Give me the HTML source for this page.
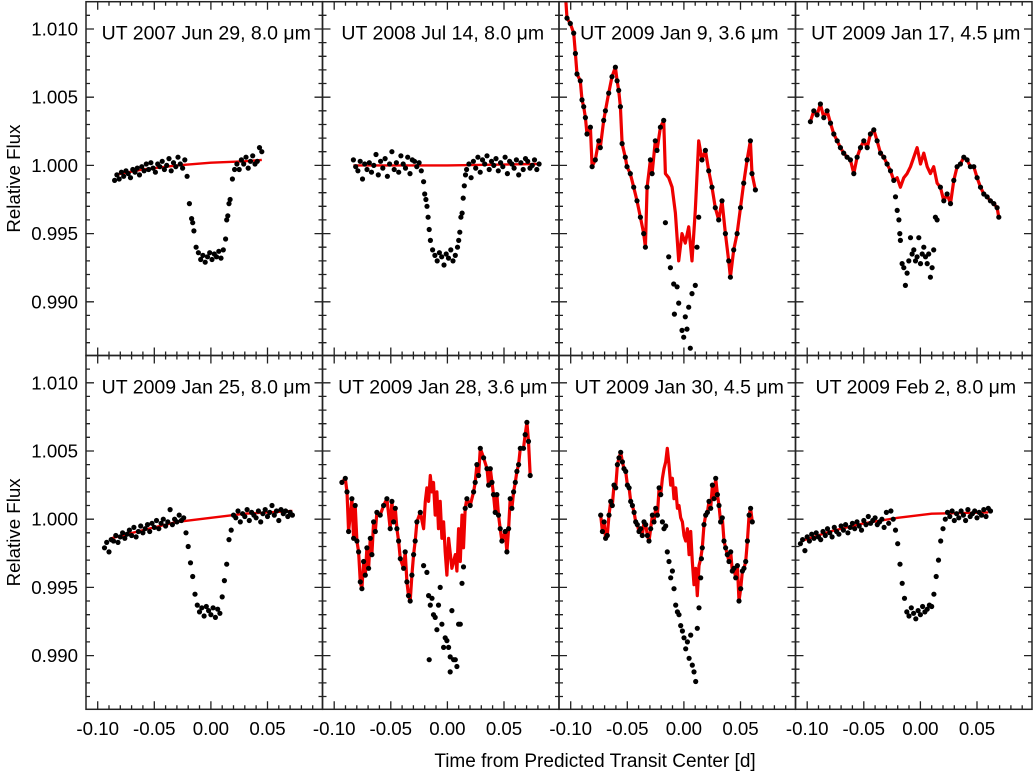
<!DOCTYPE html>
<html><head><meta charset="utf-8"><style>
html,body{margin:0;padding:0;background:#fff;}
svg{display:block;font-family:"Liberation Sans",Arial,sans-serif;}
</style></head><body>
<svg id="chart" width="1033" height="772" viewBox="0 0 1033 772" xmlns="http://www.w3.org/2000/svg">
<defs>
<clipPath id="c0"><rect x="86" y="1.7" width="236.5" height="353.8"/></clipPath>
<clipPath id="c1"><rect x="322.5" y="1.7" width="236.5" height="353.8"/></clipPath>
<clipPath id="c2"><rect x="559" y="1.7" width="236.5" height="353.8"/></clipPath>
<clipPath id="c3"><rect x="795.5" y="1.7" width="236.5" height="353.8"/></clipPath>
<clipPath id="c4"><rect x="86" y="355.5" width="236.5" height="353.8"/></clipPath>
<clipPath id="c5"><rect x="322.5" y="355.5" width="236.5" height="353.8"/></clipPath>
<clipPath id="c6"><rect x="559" y="355.5" width="236.5" height="353.8"/></clipPath>
<clipPath id="c7"><rect x="795.5" y="355.5" width="236.5" height="353.8"/></clipPath>
</defs>
</svg>
<script>
// ---------- data ----------
const titles = ["UT 2007 Jun 29, 8.0 \u03bcm","UT 2008 Jul 14, 8.0 \u03bcm","UT 2009 Jan 9, 3.6 \u03bcm","UT 2009 Jan 17, 4.5 \u03bcm","UT 2009 Jan 25, 8.0 \u03bcm","UT 2009 Jan 28, 3.6 \u03bcm","UT 2009 Jan 30, 4.5 \u03bcm","UT 2009 Feb 2, 8.0 \u03bcm"];
const yTickVals = [1.010,1.005,1.000,0.995,0.990];
const yTickLabels = ["1.010","1.005","1.000","0.995","0.990"];
const xTickVals = [-0.10,-0.05,0.00,0.05];
const xTickLabels = ["-0.10","-0.05","0.00","0.05"];

// Panel 1
const p1T = [-0.085,-0.083,-0.081,-0.079,-0.077,-0.075,-0.073,-0.071,-0.069,-0.067,-0.065,-0.063,-0.061,-0.059,-0.057,-0.055,-0.053,-0.051,-0.049,-0.047,-0.045,-0.043,-0.041,-0.039,-0.037,-0.035,-0.033,-0.031,-0.029,-0.027,-0.025,-0.023,-0.021,-0.019,-0.017,-0.016,-0.015,-0.013,-0.011,-0.009,-0.007,-0.005,-0.003,-0.001,0.001,0.003,0.005,0.007,0.009,0.011,0.013,0.014,0.015,0.016,0.017,0.019,0.021,0.023,0.025,0.027,0.029,0.031,0.033,0.035,0.037,0.039,0.041,0.043,0.045];
const p1F = [.9989,.9993,.9990,.9995,.9992,.9996,.9994,.9991,.9997,.9995,.9998,.9993,.9999,.9996,1.0001,.9997,1.0002,.9998,.9995,1.0001,.9999,1.0003,.9997,1.0000,1.0005,.9996,1.0002,.9999,1.0006,1.0001,.9998,1.0004,.9992,.9972,.9961,.9958,.9952,.9940,.9936,.9931,.9934,.9929,.9933,.9936,.9931,.9935,.9933,.9937,.9932,.9938,.9946,.9960,.9963,.9972,.9975,.9990,.9997,1.0001,.9997,1.0004,1.0001,1.0006,.9998,1.0003,1.0007,1.0001,1.0003,1.0013,1.0010];
const p1ModelT = [-0.085,-0.06,-0.03,0,0.03,0.045];
const p1ModelF = [.9993,.9997,1.0000,1.0002,1.0003,1.0004];

// Panel 2
const p2T = [-0.083,-0.081,-0.079,-0.077,-0.075,-0.073,-0.071,-0.069,-0.067,-0.065,-0.063,-0.061,-0.059,-0.057,-0.055,-0.053,-0.051,-0.049,-0.047,-0.045,-0.043,-0.041,-0.039,-0.037,-0.035,-0.033,-0.031,-0.029,-0.027,-0.025,-0.023,-0.021,-0.020,-0.019,-0.018,-0.017,-0.016,-0.015,-0.013,-0.011,-0.009,-0.007,-0.005,-0.003,-0.001,0.001,0.003,0.005,0.007,0.009,0.010,0.011,0.012,0.013,0.014,0.015,0.016,0.017,0.019,0.021,0.023,0.025,0.027,0.029,0.031,0.033,0.035,0.037,0.039,0.041,0.043,0.045,0.047,0.049,0.051,0.053,0.055,0.057,0.059,0.061,0.063,0.065,0.067,0.069,0.071,0.073,0.075,0.077,0.079,0.081];
const p2F = [1.0004,.9999,.9996,1.0003,.9990,1.0001,.9997,1.0002,.9995,1.0000,1.0008,.9993,1.0003,.9998,1.0005,.9992,1.0001,1.0010,.9997,1.0002,.9995,1.0007,1.0001,.9998,1.0006,.9994,1.0004,1.0003,.9999,1.0002,.9996,.9988,.9979,.9975,.9970,.9962,.9953,.9945,.9938,.9934,.9930,.9936,.9933,.9927,.9935,.9932,.9938,.9930,.9934,.9940,.9945,.9951,.9962,.9965,.9976,.9985,.9993,.9997,1.0001,.9991,1.0003,.9998,1.0006,.9995,1.0004,1.0001,1.0007,.9997,1.0003,1.0000,1.0005,.9996,1.0002,.9999,1.0006,.9994,1.0003,1.0001,.9998,1.0004,.9993,1.0002,.9997,1.0005,1.0003,.9998,1.0000,1.0004,.9997,1.0001];
const p2ModelT = [-0.083,0,0.081];
const p2ModelF = [1.0000,1.0000,1.0001];

// Panel 3
const p3RedT = [-.1050,-.1032,-.1003,-.0973,-.0958,-.0944,-.0915,-.0900,-.0885,-.0870,-.0856,-.0826,-.0811,-.0782,-.0752,-.0738,-.0708,-.0693,-.0664,-.0635,-.0605,-.0590,-.0576,-.0561,-.0546,-.0517,-.0502,-.0473,-.0443,-.0414,-.0384,-.0355,-.0340,-.0325,-.0296,-.0281,-.0252,-.0237,-.0207,-.0178,-.0163,-.0134,-.0104,-.0075,-.0046,-.0016,.0013,.0043,.0072,.0101,.0131,.0160,.0190,.0219,.0249,.0278,.0308,.0337,.0367,.0396,.0411,.0440,.0470,.0500,.0529,.0559,.0588,.0602,.0632];
const p3RedF = [1.0130,1.0108,1.0104,1.0097,1.0082,1.0067,1.0062,1.0048,1.0043,1.0035,1.0023,1.0028,.9999,1.0004,1.0018,1.0013,1.0033,1.0040,1.0053,1.0065,1.0072,1.0062,1.0055,1.0043,1.0016,1.0006,.9999,.9994,.9984,.9974,.9962,.9950,.9940,.9984,1.0004,.9994,1.0018,1.0011,1.0028,1.0033,.9994,.9991,.9984,.9965,.9930,.9950,.9943,.9955,.9930,.9967,1.0018,1.0004,1.0011,.9996,.9984,.9969,.9960,.9974,.9950,.9930,.9918,.9938,.9950,.9969,.9987,1.0004,1.0018,.9994,.9982];
const p3TransitT = [-.0163,-.0134,-.0119,-.0090,-.0084,-.0060,-.0046,-.0016,-.0001,.0013,.0028,.0043,.0057,.0072,.0101,.0116,.0131];
const p3TransitF = [.9958,.9933,.9925,.9913,.9891,.9911,.9899,.9879,.9874,.9889,.9880,.9896,.9866,.9906,.9912,.9940,.9962];
const p3Window = [-0.0170,0.0135];

// Panel 4
const p4RedT = [-.0971,-.0941,-.0912,-.0883,-.0853,-.0824,-.0794,-.0765,-.0735,-.0706,-.0677,-.0647,-.0618,-.0588,-.0559,-.0529,-.0500,-.0470,-.0441,-.0411,-.0382,-.0352,-.0323,-.0294,-.0264,-.0235,-.0205,-.0176,-.0146,-.0117,-.0087,-.0058,-.0029,.0001,.0030,.0060,.0089,.0118,.0148,.0177,.0207,.0236,.0266,.0295,.0325,.0354,.0384,.0413,.0442,.0472,.0501,.0531,.0560,.0590,.0619,.0649,.0678,.0693];
const p4RedF = [1.0032,1.0040,1.0037,1.0045,1.0035,1.0040,1.0031,1.0023,1.0018,1.0013,1.0009,1.0006,1.0004,.9994,1.0006,1.0013,1.0018,1.0013,1.0023,1.0026,1.0018,1.0009,1.0006,1.0001,.9996,.9989,.9991,.9984,.9991,.9994,.9999,1.0006,1.0013,1.0001,1.0009,.9999,.9994,.9999,.9987,.9984,.9974,.9979,.9972,.9989,.9999,1.0001,1.0006,1.0004,.9999,.9999,.9991,.9984,.9979,.9977,.9974,.9972,.9969,.9962];
const p4TransitT = [-.0220,-.0205,-.0190,-.0182,-.0176,-.0161,-.0146,-.0132,-.0117,-.0102,-.0087,-.0073,-.0058,-.0043,-.0029,-.0014,.0001,.0016,.0030,.0045,.0060,.0074,.0089,.0104,.0118,.0133,.0148];
const p4TransitF = [.9977,.9967,.9960,.9950,.9945,.9928,.9925,.9912,.9921,.9930,.9947,.9935,.9938,.9930,.9933,.9947,.9928,.9935,.9940,.9933,.9928,.9935,.9918,.9925,.9938,.9962,.9960];
const p4Window = [-0.0225,0.0150];

// Panel 5
const p5T = [-0.094,-0.092,-0.090,-0.088,-0.086,-0.084,-0.082,-0.080,-0.078,-0.076,-0.074,-0.072,-0.070,-0.068,-0.066,-0.064,-0.062,-0.060,-0.058,-0.056,-0.054,-0.052,-0.050,-0.048,-0.046,-0.044,-0.042,-0.040,-0.038,-0.036,-0.034,-0.032,-0.030,-0.028,-0.026,-0.024,-0.022,-0.020,-0.018,-0.016,-0.014,-0.012,-0.010,-0.008,-0.006,-0.004,-0.002,0.000,0.002,0.004,0.006,0.008,0.010,0.012,0.014,0.016,0.018,0.020,0.022,0.024,0.026,0.028,0.030,0.032,0.034,0.036,0.038,0.040,0.042,0.044,0.046,0.048,0.050,0.052,0.054,0.056,0.058,0.060,0.062,0.064,0.066,0.068,0.070,0.072];
const p5F = [.9979,.9983,.9976,.9985,.9984,.9988,.9983,.9987,.9990,.9986,.9989,.9992,.9988,.9994,.9987,.9991,.9995,.9990,.9993,.9996,.9991,.9997,.9994,.9999,.9993,.9997,1.0000,.9995,.9998,1.0007,.9996,1.0000,.9998,1.0003,.9999,1.0001,.9990,.9980,.9968,.9958,.9945,.9937,.9932,.9935,.9929,.9936,.9933,.9930,.9935,.9928,.9934,.9931,.9943,.9955,.9967,.9985,.9992,1.0003,1.0001,1.0006,.9998,1.0004,1.0002,1.0007,.9999,1.0005,1.0003,1.0001,1.0006,.9998,1.0004,1.0007,1.0002,1.0005,1.0010,1.0003,1.0006,.9999,1.0007,1.0004,1.0006,1.0002,1.0005,1.0003];
const p5ModelT = [-0.088,-0.06,-0.03,0,0.03,0.072];
const p5ModelF = [.9986,.9992,.9998,1.0001,1.0004,1.0006];

// Panel 6
const p6RedT = [-.0932,-.0902,-.0887,-.0872,-.0843,-.0828,-.0814,-.0799,-.0784,-.0769,-.0755,-.0740,-.0725,-.0711,-.0696,-.0681,-.0667,-.0652,-.0637,-.0622,-.0593,-.0563,-.0534,-.0505,-.0490,-.0475,-.0460,-.0446,-.0431,-.0416,-.0387,-.0372,-.0357,-.0343,-.0328,-.0313,-.0298,-.0284,-.0269,-.0239,-.0210,-.0195,-.0181,-.0166,-.0151,-.0136,-.0122,-.0107,-.0092,-.0078,-.0063,-.0048,-.0033,-.0019,-.0004,.0011,.0040,.0070,.0084,.0099,.0114,.0129,.0143,.0158,.0173,.0202,.0232,.0246,.0261,.0276,.0291,.0320,.0350,.0364,.0379,.0394,.0408,.0423,.0438,.0452,.0467,.0482,.0511,.0526,.0541,.0555,.0570,.0585,.0600,.0614,.0629,.0644,.0673,.0688,.0703,.0717,.0732];
const p6RedF = [1.0027,1.0030,1.0020,.9991,1.0015,.9986,1.0010,.9984,.9976,.9954,.9949,.9969,.9959,.9979,.9964,.9986,.9974,.9998,.9991,1.0005,1.0003,1.0010,1.0015,.9993,1.0013,.9998,1.0008,.9993,.9984,.9971,.9964,.9976,.9954,.9944,.9940,.9959,.9974,.9984,.9998,1.0005,.9993,1.0013,1.0023,1.0013,1.0032,1.0020,1.0027,1.0003,1.0020,.9993,1.0013,.9986,.9998,.9976,.9959,.9986,.9964,.9974,.9962,.9993,.9969,1.0003,.9979,1.0008,1.0015,1.0010,1.0020,1.0027,1.0040,1.0032,1.0052,1.0045,1.0037,1.0025,1.0037,1.0027,1.0018,1.0005,1.0018,1.0003,.9993,.9984,.9991,.9976,.9993,1.0015,1.0008,1.0020,1.0027,1.0035,1.0040,1.0052,1.0052,1.0062,1.0071,1.0057,1.0032];
const p6TransitT = [-.0210,-.0181,-.0166,-.0160,-.0151,-.0136,-.0122,-.0107,-.0092,-.0078,-.0063,-.0048,-.0033,-.0019,-.0004,.0011,.0025,.0025,.0040,.0055,.0070,.0084,.0099,.0114,.0129,.0143];
const p6TransitF = [.9966,.9961,.9944,.9897,.9937,.9942,.9930,.9928,.9919,.9937,.9950,.9923,.9906,.9913,.9911,.9906,.9899,.9888,.9933,.9897,.9897,.9892,.9923,.9923,.9953,.9965];
const p6Window = [-0.0215,0.0150];

// Panel 7
const p7RedT = [-.0735,-.0720,-.0705,-.0691,-.0676,-.0661,-.0646,-.0632,-.0617,-.0602,-.0587,-.0573,-.0558,-.0543,-.0529,-.0514,-.0499,-.0484,-.0470,-.0455,-.0440,-.0425,-.0411,-.0396,-.0381,-.0367,-.0352,-.0337,-.0322,-.0308,-.0293,-.0278,-.0264,-.0249,-.0234,-.0219,-.0205,-.0190,-.0175,-.0160,-.0146,-.0131,-.0116,-.0101,-.0087,-.0072,-.0057,-.0043,-.0028,-.0013,.0001,.0016,.0031,.0046,.0060,.0075,.0090,.0105,.0119,.0134,.0149,.0163,.0178,.0193,.0208,.0222,.0237,.0252,.0266,.0281,.0296,.0310,.0325,.0340,.0355,.0369,.0384,.0399,.0414,.0428,.0443,.0458,.0473,.0487,.0502,.0517,.0531,.0546,.0561,.0576,.0590,.0605];
const p7RedF = [1.0003,.9991,.9998,.9986,.9988,1.0003,1.0013,1.0010,1.0025,1.0023,1.0040,1.0045,1.0049,1.0042,1.0037,1.0035,1.0025,1.0023,1.0013,1.0010,1.0005,.9998,.9996,.9991,.9993,.9988,.9998,.9996,.9988,.9984,.9993,1.0003,.9998,1.0008,1.0003,1.0023,1.0018,1.0030,1.0037,1.0042,1.0052,1.0040,1.0025,1.0030,1.0015,1.0023,1.0008,1.0010,1.0001,.9998,.9988,.9984,.9993,.9974,.9991,.9969,.9952,.9964,.9944,.9966,.9971,.9979,.9996,1.0003,1.0005,1.0013,1.0008,1.0025,1.0015,1.0030,1.0018,1.0010,.9998,1.0001,.9984,.9979,.9974,.9969,.9976,.9962,.9964,.9957,.9966,.9940,.9949,.9962,.9964,.9969,.9984,1.0003,1.0008,.9998];
const p7TransitT = [-.0190,-.0175,-.0160,-.0146,-.0131,-.0116,-.0101,-.0087,-.0072,-.0057,-.0043,-.0028,-.0013,.0001,.0016,.0031,.0046,.0060,.0075,.0090,.0105,.0119,.0134,.0149,.0155];
const p7TransitF = [.9998,.9993,.9995,.9976,.9969,.9957,.9962,.9949,.9937,.9932,.9930,.9922,.9918,.9913,.9905,.9910,.9898,.9915,.9893,.9888,.9881,.9920,.9935,.9957,.9971];
const p7Window = [-0.0200,0.0160];

// Panel 8
const p8T = [-0.106,-0.104,-0.102,-0.100,-0.098,-0.096,-0.094,-0.092,-0.090,-0.088,-0.086,-0.084,-0.082,-0.080,-0.078,-0.076,-0.074,-0.072,-0.070,-0.068,-0.066,-0.064,-0.062,-0.060,-0.058,-0.056,-0.054,-0.052,-0.050,-0.048,-0.046,-0.044,-0.042,-0.040,-0.038,-0.036,-0.034,-0.032,-0.030,-0.028,-0.026,-0.024,-0.022,-0.020,-0.018,-0.016,-0.014,-0.012,-0.010,-0.008,-0.006,-0.004,-0.002,0.000,0.002,0.004,0.006,0.008,0.010,0.012,0.014,0.016,0.018,0.020,0.022,0.024,0.026,0.028,0.030,0.032,0.034,0.036,0.038,0.040,0.042,0.044,0.046,0.048,0.050,0.052,0.054,0.056,0.058,0.060,0.062];
const p8F = [.9982,.9985,.9977,.9987,.9984,.9989,.9986,.9990,.9987,.9985,.9991,.9988,.9993,.9990,.9987,.9994,.9991,.9989,.9995,.9992,.9996,.9990,.9994,.9997,.9993,.9998,.9995,.9992,.9999,.9996,1.0002,.9997,.9999,1.0001,.9996,.9998,1.0000,.9994,1.0005,.9997,1.0006,1.0000,.9992,.9982,.9967,.9953,.9942,.9932,.9929,.9935,.9931,.9927,.9933,.9930,.9936,.9932,.9934,.9937,.9936,.9945,.9958,.9970,.9984,.9993,1.0000,1.0005,1.0002,1.0006,.9999,1.0004,1.0001,1.0006,1.0003,.9999,1.0007,1.0002,1.0004,1.0006,1.0001,1.0005,1.0003,1.0007,1.0002,1.0008,1.0006];
const p8ModelT = [-0.105,-0.08,-0.05,-0.02,0.01,0.06];
const p8ModelF = [.9984,.9991,.9997,1.0001,1.0004,1.0005];

// ---------- layout ----------
const svg = document.getElementById('chart');
const NS = 'http://www.w3.org/2000/svg';
const L0 = 86, PW = 236.5, T0 = 1.7, PH = 353.8;
const TMIN = -0.1103, XS = 1132, FMAX = 1.0120, YS = 13640;
function px(i, t){ return L0 + i*PW + (t - TMIN)*XS; }
function py(r, f){ return T0 + r*PH + (FMAX - f)*YS; }
function mk(tag, attrs, parent){ const e = document.createElementNS(NS, tag); for (const k in attrs) e.setAttribute(k, attrs[k]); (parent||svg).appendChild(e); return e; }

const panels = [
 {smooth:true, t:p1T, f:p1F, mt:p1ModelT, mf:p1ModelF},
 {smooth:true, t:p2T, f:p2F, mt:p2ModelT, mf:p2ModelF},
 {smooth:false, rt:p3RedT, rf:p3RedF, tt:p3TransitT, tf:p3TransitF, w:p3Window},
 {smooth:false, rt:p4RedT, rf:p4RedF, tt:p4TransitT, tf:p4TransitF, w:p4Window},
 {smooth:true, t:p5T, f:p5F, mt:p5ModelT, mf:p5ModelF},
 {smooth:false, rt:p6RedT, rf:p6RedF, tt:p6TransitT, tf:p6TransitF, w:p6Window},
 {smooth:false, rt:p7RedT, rf:p7RedF, tt:p7TransitT, tf:p7TransitF, w:p7Window},
 {smooth:true, t:p8T, f:p8F, mt:p8ModelT, mf:p8ModelF}
];

function dot(g, x, y){
  const c = mk('circle', {cx:x.toFixed(1), cy:y.toFixed(1), r:2.6, fill:'#000'}, g);
  
  
}
function line(g, ts, fs, i, r, w){
  let d = '';
  for (let k=0;k<Math.min(ts.length, fs.length);k++) d += (k?'L':'M') + px(i,ts[k]).toFixed(1) + ',' + py(r,fs[k]).toFixed(1);
  const p = mk('path', {d:d, fill:'none', stroke:'#ee0000', 'stroke-width':w, 'stroke-linejoin':'round'}, g);
  
  
}

panels.forEach((P, n) => {
  const i = n % 4, r = Math.floor(n / 4);
  const g = mk('g', {'clip-path':'url(#c'+n+')'});
  
  
  if (P.smooth) {
    line(g, P.mt, P.mf, i, r, 2.4);
    for (let k=0;k<Math.min(P.t.length,P.f.length);k++) dot(g, px(i,P.t[k]), py(r,P.f[k]));
  } else {
    line(g, P.rt, P.rf, i, r, 3.2);
    for (let k=0;k<Math.min(P.rt.length,P.rf.length);k++) {
      if (P.rt[k] > P.w[0] && P.rt[k] < P.w[1]) continue;
      if (P.rf[k] > FMAX) continue;
      dot(g, px(i,P.rt[k]), py(r,P.rf[k]));
    }
    for (let k=0;k<Math.min(P.tt.length,P.tf.length);k++) dot(g, px(i,P.tt[k]), py(r,P.tf[k]));
  }
  const x0 = L0 + i*PW, y0 = T0 + r*PH;
  const fr = mk('rect', {x:x0, y:y0, width:PW, height:PH, fill:'none', stroke:'#222', 'stroke-width':1.5});
  
  
  let d = '';
  for (let m=-11;m<=9;m++){
    const t = m/100; const x = px(i,t);
    if (x < x0+1 || x > x0+PW-1) continue;
    const len = (m % 5 === 0) ? 8 : 4;
    d += 'M'+x.toFixed(1)+','+(y0+PH)+'v'+(-len)+'M'+x.toFixed(1)+','+y0+'v'+len;
  }
  for (let m=987;m<=1011;m++){
    const f = m/1000; const y = py(r,f);
    if (y < y0+1 || y > y0+PH-1) continue;
    const len = (m % 5 === 0) ? 8 : 4;
    d += 'M'+x0+','+y.toFixed(1)+'h'+len+'M'+(x0+PW)+','+y.toFixed(1)+'h'+(-len);
  }
  const tk = mk('path', {d:d, stroke:'#222', 'stroke-width':1.3, fill:'none'});
  
  
  const tt = mk('text', {x:(x0+PW/2+2).toFixed(1), y:(y0+38).toFixed(1), 'text-anchor':'middle', 'font-size':'19.5', fill:'#000'});
  tt.textContent = titles[n];
  
  
  if (i === 0) {
    yTickVals.forEach((v, k) => {
      const yl = mk('text', {x:78, y:(py(r,v)+6.5).toFixed(1), 'text-anchor':'end', 'font-size':'18.7', fill:'#000'});
      yl.textContent = yTickLabels[k];
      
      
    });
    const yt = mk('text', {x:0, y:0, transform:'translate(20,'+(y0+PH/2).toFixed(1)+') rotate(-90)', 'text-anchor':'middle', 'font-size':'18.7', fill:'#000'});
    yt.textContent = 'Relative Flux';
    
    
  }
  if (r === 1) {
    xTickVals.forEach((v, k) => {
      const xl = mk('text', {x:px(i,v).toFixed(1), y:735, 'text-anchor':'middle', 'font-size':'18.7', fill:'#000'});
      xl.textContent = xTickLabels[k];
      
      
    });
  }
});
const xt = mk('text', {x:595, y:767, 'text-anchor':'middle', 'font-size':'19', fill:'#000'});
xt.textContent = 'Time from Predicted Transit Center [d]';


</script>
</body></html>
